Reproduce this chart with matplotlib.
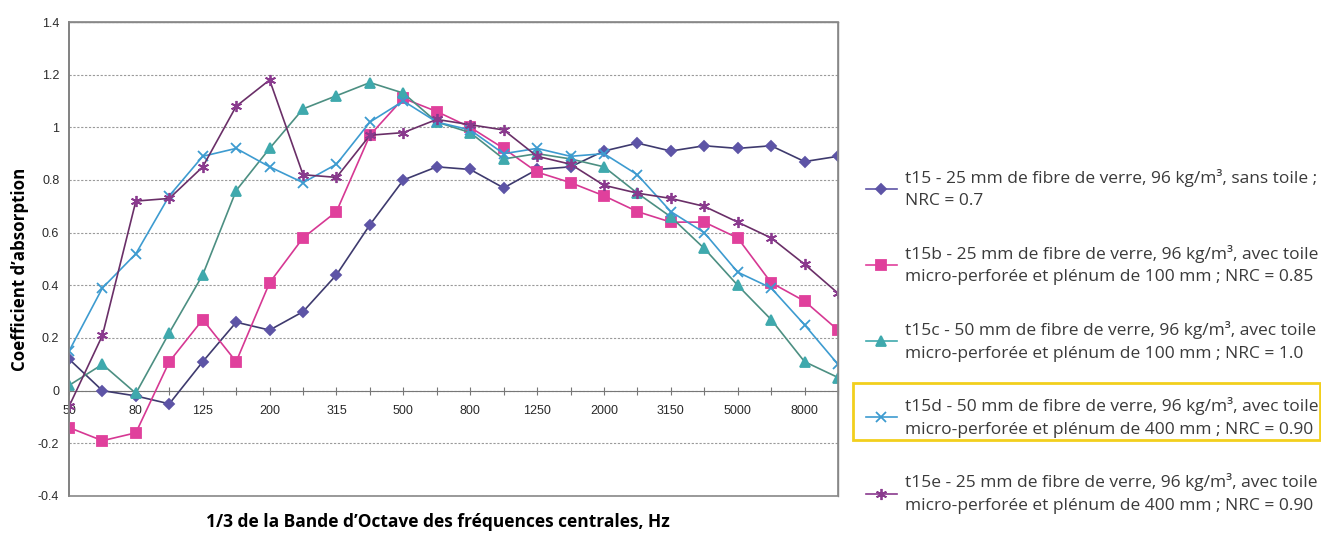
import matplotlib
matplotlib.use('Agg')
import matplotlib.pyplot as plt
from matplotlib.patches import Rectangle
from matplotlib.lines import Line2D

# bandes de 1/3 d'octave
freqs = ['50', '63', '80', '100', '125', '160', '200', '250', '315', '400', '500', '630',
         '800', '1000', '1250', '1600', '2000', '2500', '3150', '4000', '5000', '6300', '8000', '10000']

t15 = [0.12, 0.00, -0.02, -0.05, 0.11, 0.26, 0.23, 0.30, 0.44, 0.63, 0.80, 0.85,
       0.84, 0.77, 0.84, 0.85, 0.91, 0.94, 0.91, 0.93, 0.92, 0.93, 0.87, 0.89]
t15b = [-0.14, -0.19, -0.16, 0.11, 0.27, 0.11, 0.41, 0.58, 0.68, 0.97, 1.11, 1.06,
        1.00, 0.92, 0.83, 0.79, 0.74, 0.68, 0.64, 0.64, 0.58, 0.41, 0.34, 0.23]
t15c = [0.02, 0.10, -0.01, 0.22, 0.44, 0.76, 0.92, 1.07, 1.12, 1.17, 1.13, 1.02,
        0.98, 0.88, 0.90, 0.88, 0.85, 0.75, 0.66, 0.54, 0.40, 0.27, 0.11, 0.05]
t15d = [0.15, 0.39, 0.52, 0.74, 0.89, 0.92, 0.85, 0.79, 0.86, 1.02, 1.10, 1.02,
        0.99, 0.90, 0.92, 0.89, 0.90, 0.82, 0.68, 0.60, 0.45, 0.39, 0.25, 0.10]
t15e = [-0.06, 0.21, 0.72, 0.73, 0.85, 1.08, 1.18, 0.82, 0.81, 0.97, 0.98, 1.03,
        1.01, 0.99, 0.89, 0.86, 0.78, 0.75, 0.73, 0.70, 0.64, 0.58, 0.48, 0.37]

labels = [
    't15 - 25 mm de fibre de verre, 96 kg/m³, sans toile ;\nNRC = 0.7',
    't15b - 25 mm de fibre de verre, 96 kg/m³, avec toile\nmicro-perforée et plénum de 100 mm ; NRC = 0.85',
    't15c - 50 mm de fibre de verre, 96 kg/m³, avec toile\nmicro-perforée et plénum de 100 mm ; NRC = 1.0',
    't15d - 50 mm de fibre de verre, 96 kg/m³, avec toile\nmicro-perforée et plénum de 400 mm ; NRC = 0.90',
    't15e - 25 mm de fibre de verre, 96 kg/m³, avec toile\nmicro-perforée et plénum de 400 mm ; NRC = 0.90',
]

yticks = [1.4, 1.2, 1.0, 0.8, 0.6, 0.4, 0.2, 0.0, -0.2, -0.4]
ytick_labels = ['1.4', '1.2', '1', '0.8', '0.6', '0.4', '0.2', '0', '-0.2', '-0.4']

# (couleur ligne, couleur marqueur, marqueur, taille)
styles = [
    ('#3e3a6e', '#5d54a6', 'D', 5),
    ('#d63893', '#e0409c', 's', 6.5),
    ('#4c8f82', '#3fa9ad', '^', 6.5),
    ('#3d9bd0', '#3d9bd0', 'x', 7),
    ('#6a2f68', '#8a3a8e', (6, 2, 0), 8),
]
series = [t15, t15b, t15c, t15d, t15e]

fig = plt.figure(figsize=(13.21, 5.33), dpi=100)
ax = fig.add_axes([69 / 1321, 1 - 496 / 533, (838 - 69) / 1321, (496 - 22) / 533])

x = list(range(len(freqs)))
for data, (lc, mc, mk, ms) in zip(series, styles):
    ax.plot(x, data, color=lc, lw=1.2, marker=mk, ms=ms, mfc=mc, mec=mc, mew=1.3, zorder=3)

ax.set_xlim(0, len(freqs) - 1)
ax.set_ylim(-0.4, 1.4)

ax.set_yticks(yticks)
ax.set_yticklabels(ytick_labels, fontsize=9, fontfamily='Liberation Sans', color='#2a2a2a')
ax.yaxis.grid(True, color='#9a9a9a', linestyle=(0, (2, 1.5)), linewidth=0.8)
ax.tick_params(axis='y', length=0, pad=7)

# axe des x sur la ligne zéro
ax.spines['bottom'].set_position(('data', 0))
ax.spines['bottom'].set_color('#777777')
ax.spines['bottom'].set_linewidth(0.8)
ax.set_xticks(x)
ax.set_xticklabels([f if i % 2 == 0 else '' for i, f in enumerate(freqs)],
                   fontsize=9, fontfamily='Liberation Sans', color='#2a2a2a')
ax.tick_params(axis='x', direction='inout', length=6, color='#777777', pad=7)

ax.spines['left'].set_color('#555555')
ax.spines['left'].set_linewidth(1.2)
for s in ['top', 'right']:
    ax.spines[s].set_color('#888888')
    ax.spines[s].set_linewidth(1.0)
ax.add_patch(Rectangle((0, 0), 1, 1, transform=ax.transAxes, fill=False,
                       edgecolor='#888888', lw=1.2, clip_on=False, zorder=4))

fig.text(20 / 1321, 1 - 269 / 533, 'Coefficient d’absorption', rotation=90, ha='center', va='center',
         fontsize=12.2, fontweight='bold', fontfamily='Open Sans')
fig.text(438 / 1321, 1 - 522 / 533, '1/3 de la Bande d’Octave des fréquences centrales, Hz',
         ha='center', va='center', fontsize=12.5, fontweight='bold', fontfamily='Open Sans')

# légende
handles = [Line2D([], [], color=mc, lw=1.2, marker=mk, ms=ms, mfc=mc, mec=mc, mew=1.3)
           for (lc, mc, mk, ms) in styles]
leg = fig.legend(handles, labels, loc='upper left', bbox_to_anchor=(850 / 1321, 1 - 153 / 533),
                 frameon=False, handlelength=1.8, handletextpad=0.45, labelspacing=2.05,
                 prop={'family': 'Open Sans', 'size': 12.5})
for t in leg.get_texts():
    t.set_color('#3a3a3a')
    t.set_linespacing(1.55)

fig.patches.append(Rectangle((853 / 1321, 1 - 440 / 533), (1320 - 853) / 1321, 57 / 533,
                             transform=fig.transFigure, fill=False, edgecolor='#f2cf1d', lw=2))

fig.savefig('out.png', dpi=100)
